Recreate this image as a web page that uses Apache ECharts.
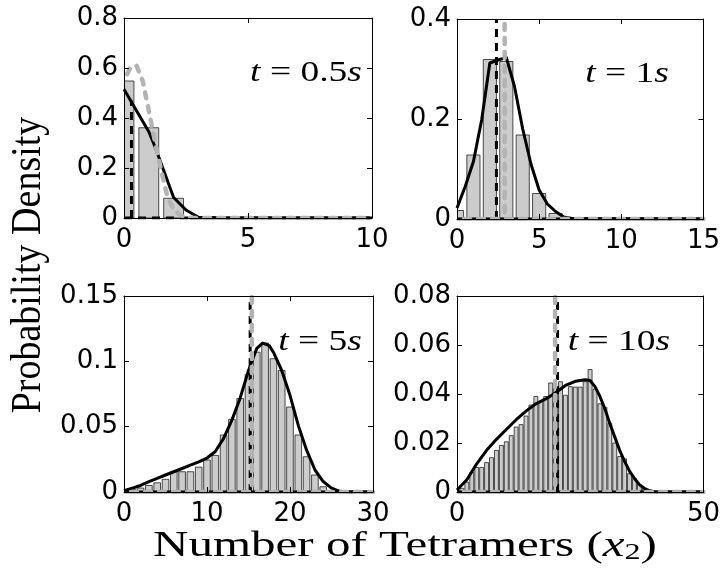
<!DOCTYPE html>
<html>
<head>
<meta charset="utf-8">
<title>Tetramer distributions</title>
<script src="https://cdn.jsdelivr.net/npm/echarts@6.0.0/dist/echarts.min.js"></script>
<style>
  html, body { margin: 0; padding: 0; background: #fff; }
  #chart { width: 723px; height: 586px; }
</style>
</head>
<body>
<div id="chart"></div>
<script>
// t = 0.5 s
const xTicks05 = [0, 5, 10];
const yTicks05 = [0, 0.2, 0.4, 0.6, 0.8];
const bins05 = [0, 1, 2];
const hist05 = [0.548, 0.361, 0.079];
const fitX05 = [0, 1, 1.25, 2, 2.5, 3, 4, 10];
const fitY05 = [0.515, 0.345, 0.285, 0.082, 0.032, 0.003, 0, 0];
const grayX05 = [0, 0.25, 0.5, 0.75, 1, 1.25, 1.5, 1.75, 2, 2.25, 2.5, 3, 10];
const grayY05 = [0.55, 0.6, 0.61, 0.55, 0.43, 0.305, 0.19, 0.085, 0.035, 0.012, 0.002, 0, 0];
const det05 = 0.3;
const detTop05 = 0.47;

// t = 1 s
const xTicks1 = [0, 5, 10, 15];
const yTicks1 = [0, 0.2, 0.4];
const bins1 = [0, 1, 2, 3, 4, 5, 6];
const hist1 = [0.017, 0.128, 0.319, 0.315, 0.168, 0.051, 0.011];
const fitX1 = [0, 0.5, 1, 1.5, 2, 2.5, 3, 3.5, 4, 4.5, 5, 5.5, 6, 6.5, 7, 15];
const fitY1 = [0.022, 0.065, 0.115, 0.198, 0.312, 0.318, 0.323, 0.265, 0.18, 0.11, 0.058, 0.03, 0.015, 0.004, 0.001, 0];
const det1 = 2.4;
const lna1 = 2.9;

// t = 5 s
const xTicks5 = [0, 10, 20, 30];
const yTicks5 = [0, 0.05, 0.1, 0.15];
const bins5 = [0, 1, 2, 3, 4, 5, 6, 7, 8, 9, 10, 11, 12, 13, 14, 15, 16, 17, 18, 19, 20, 21, 22, 23, 24, 25];
const hist5 = [0.0008, 0.002, 0.003, 0.005, 0.007, 0.0097, 0.0155, 0.0155, 0.0155, 0.019, 0.0245, 0.028, 0.0436,
  0.0556, 0.0715, 0.09, 0.107, 0.114, 0.102, 0.093, 0.065, 0.0436, 0.027, 0.013, 0.004, 0.001];
const fitX5 = [0, 1, 2, 3, 4, 5, 6, 7, 8, 9, 10, 11, 12, 13, 14, 15, 16, 16.7, 17.5, 18, 19, 20, 21, 22, 23, 24, 25, 26, 27, 30];
const fitY5 = [0.001, 0.003, 0.005, 0.008, 0.0105, 0.013, 0.0155, 0.018, 0.0205, 0.023, 0.026, 0.031, 0.041, 0.055,
  0.072, 0.093, 0.11, 0.114, 0.112, 0.107, 0.093, 0.074, 0.051, 0.032, 0.017, 0.008, 0.003, 0.0005, 0, 0];
const det5 = 15.2;
const lna5 = 15.4;

// t = 10 s
const xTicks10 = [0, 50];
const yTicks10 = [0, 0.02, 0.04, 0.06, 0.08];
const bins10 = [0, 1, 2, 3, 4, 5, 6, 7, 8, 9, 10, 11, 12, 13, 14, 15, 16, 17, 18, 19,
  20, 21, 22, 23, 24, 25, 26, 27, 28, 29, 30, 31, 32, 33, 34, 35, 36, 37, 38, 39];
const hist10 = [0.0005, 0.0015, 0.004, 0.008, 0.01, 0.01, 0.012, 0.014, 0.017, 0.019, 0.0205, 0.023, 0.0265, 0.0275,
  0.031, 0.0355, 0.039, 0.037, 0.039, 0.0445, 0.043, 0.045, 0.0395, 0.043, 0.0428, 0.0428, 0.045, 0.05, 0.042, 0.036,
  0.0345, 0.028, 0.02, 0.0145, 0.0135, 0.0075, 0.0055, 0.003, 0.0012, 0.0005];
const fitX10 = [0, 2, 4, 6, 8, 10, 12, 14, 16, 18, 20, 22, 24, 26, 27, 28, 29, 30, 31, 32, 33, 34, 35, 36, 37, 38, 39, 40, 41, 50];
const fitY10 = [0.0008, 0.005, 0.0115, 0.017, 0.0215, 0.0255, 0.0295, 0.033, 0.036, 0.038, 0.0405, 0.0435, 0.0452,
  0.0458, 0.0455, 0.043, 0.039, 0.034, 0.028, 0.0225, 0.017, 0.0125, 0.0085, 0.0055, 0.003, 0.0015, 0.0006, 0.0001, 0, 0];
const det10 = 20.4;
const lna10 = 19.9;

const panels = [
  { bins: bins05, hist: hist05, fitX: fitX05, fitY: fitY05, grayX: grayX05, grayY: grayY05, det: det05, detTop: detTop05, xTicks: xTicks05, yTicks: yTicks05 },
  { bins: bins1, hist: hist1, fitX: fitX1, fitY: fitY1, lna: lna1, det: det1, xTicks: xTicks1, yTicks: yTicks1 },
  { bins: bins5, hist: hist5, fitX: fitX5, fitY: fitY5, lna: lna5, det: det5, xTicks: xTicks5, yTicks: yTicks5 },
  { bins: bins10, hist: hist10, fitX: fitX10, fitY: fitY10, lna: lna10, det: det10, xTicks: xTicks10, yTicks: yTicks10 }
];

const grids = [
  { left: 124, top: 18, width: 248, height: 200 },
  { left: 457, top: 19, width: 247, height: 200 },
  { left: 124, top: 296, width: 249, height: 196 },
  { left: 457, top: 296, width: 247, height: 196 }
];

const SANS = 'DejaVu Sans';
const SERIF = '"Liberation Serif"';
const GRAY = '#b3b3b3';
const BAR_FRAC = 0.8; // bar width as a fraction of the unit bin

const zip = (xs, ys) => xs.map((x, k) => [x, ys[k]]);
const last = a => a[a.length - 1];

function axis(dim, i, ticks, pos, labels) {
  return {
    gridIndex: i,
    type: 'value',
    position: pos,
    min: ticks[0],
    max: last(ticks),
    interval: ticks[1] - ticks[0],
    z: 10,
    axisLine: { show: true, onZero: false, lineStyle: { color: '#000', width: 1 } },
    axisTick: { show: true, inside: true, length: 5, lineStyle: { color: '#000', width: 1 } },
    axisLabel: {
      show: labels,
      color: '#000',
      fontFamily: SANS,
      fontSize: 26,
      margin: dim === 'x' ? 9 : 6,
      showMinLabel: true,
      showMaxLabel: true
    },
    splitLine: { show: false }
  };
}

// histogram bars, clipped to the plot box
function renderBar(params, api) {
  const x = api.value(0), h = api.value(1);
  const a = api.coord([x - BAR_FRAC / 2, h]);
  const b = api.coord([x + BAR_FRAC / 2, 0]);
  const shape = echarts.graphic.clipRectByRect(
    { x: a[0], y: a[1], width: b[0] - a[0], height: b[1] - a[1] },
    { x: params.coordSys.x, y: params.coordSys.y, width: params.coordSys.width, height: params.coordSys.height }
  );
  if (!shape) return;
  return {
    type: 'rect',
    shape: shape,
    style: { fill: '#cccccc', stroke: '#222', lineWidth: 0.8 }
  };
}

const xAxis = [], yAxis = [], series = [];
panels.forEach((p, i) => {
  xAxis.push(axis('x', i, p.xTicks, 'bottom', true));
  yAxis.push(axis('y', i, p.yTicks, 'left', true));
});
panels.forEach((p, i) => {
  xAxis.push(axis('x', i, p.xTicks, 'top', false));
  yAxis.push(axis('y', i, p.yTicks, 'right', false));
});

const blackDash = { color: '#000', width: 3, type: [8, 6] };
const grayDash = { color: GRAY, width: 4.5, type: [6, 8], dashOffset: 7, cap: 'round' };

panels.forEach((p, i) => {
  const x0 = p.xTicks[0], x1 = last(p.xTicks);
  const yTop = last(p.yTicks);
  const base = { xAxisIndex: i, yAxisIndex: i, animation: false, silent: true };
  const lineBase = Object.assign({}, base, { type: 'line', symbol: 'none', showSymbol: false, clip: true });

  series.push(Object.assign({}, base, {
    type: 'custom',
    renderItem: renderBar,
    encode: { x: 0, y: 1 },
    data: zip(p.bins, p.hist),
    clip: true,
    z: 1
  }));
  series.push(Object.assign({}, lineBase, {
    data: zip(p.fitX, p.fitY),
    lineStyle: { color: '#000', width: 3, join: 'round' },
    z: 3
  }));
  series.push(Object.assign({}, lineBase, {
    data: zip([p.det, p.det], [0, p.detTop != null ? p.detTop : yTop]),
    lineStyle: blackDash,
    z: 4
  }));
  series.push(Object.assign({}, lineBase, {
    data: zip([x0, x1], [0, 0]),
    lineStyle: blackDash,
    z: 4
  }));
  if (p.grayX) {
    series.push(Object.assign({}, lineBase, {
      data: zip(p.grayX, p.grayY),
      lineStyle: grayDash,
      z: 5
    }));
  } else {
    series.push(Object.assign({}, lineBase, {
      data: zip([p.lna, p.lna], [0, yTop]),
      lineStyle: grayDash,
      z: 5
    }));
    series.push(Object.assign({}, lineBase, {
      data: zip([x0, x1], [0, 0]),
      lineStyle: grayDash,
      z: 5
    }));
  }
});

function serifRich(size) {
  return {
    i: { fontFamily: SERIF, fontSize: size, fontStyle: 'italic', fill: '#000', lineHeight: size },
    n: { fontFamily: SERIF, fontSize: size, fontStyle: 'normal', fill: '#000', lineHeight: size }
  };
}

function timeLabel(text, cx, cy) {
  return {
    type: 'text',
    x: cx,
    y: cy,
    scaleX: 1.25,
    z: 20,
    style: {
      text: text,
      fontFamily: SERIF,
      fontSize: 30,
      lineHeight: 30,
      fill: '#000',
      align: 'center',
      textAlign: 'center',
      verticalAlign: 'middle',
      textVerticalAlign: 'middle',
      rich: serifRich(30)
    }
  };
}

const graphic = [
  timeLabel('{i|t}{n| = 0.5}{i|s}', 306, 73),
  timeLabel('{i|t}{n| = 1}{i|s}', 627, 74),
  timeLabel('{i|t}{n| = 5}{i|s}', 320, 342),
  timeLabel('{i|t}{n| = 10}{i|s}', 619, 342),
  {
    type: 'text',
    x: 29,
    y: 265,
    rotation: Math.PI / 2,
    scaleY: 1.1,
    z: 20,
    style: {
      text: 'Probability Density',
      fontFamily: SERIF,
      fontSize: 38,
      fill: '#000',
      align: 'center',
      textAlign: 'center',
      verticalAlign: 'middle',
      textVerticalAlign: 'middle'
    }
  },
  {
    type: 'text',
    x: 405,
    y: 547,
    scaleX: 1.4,
    z: 20,
    style: {
      text: '{n|Number of Tetramers (}{i|x}{s|2}{n|)}',
      fontFamily: SERIF,
      fontSize: 35,
      lineHeight: 35,
      fill: '#000',
      align: 'center',
      textAlign: 'center',
      verticalAlign: 'middle',
      textVerticalAlign: 'middle',
      rich: {
        n: { fontFamily: SERIF, fontSize: 35, fontStyle: 'normal', fill: '#000', lineHeight: 35 },
        i: { fontFamily: SERIF, fontSize: 35, fontStyle: 'italic', fill: '#000', lineHeight: 35 },
        s: { fontFamily: SERIF, fontSize: 23, fontStyle: 'normal', fill: '#000', lineHeight: 23, verticalAlign: 'bottom' }
      }
    }
  }
];

const chart = echarts.init(document.getElementById('chart'), null, { renderer: 'canvas' });
chart.setOption({
  backgroundColor: '#fff',
  animation: false,
  grid: grids,
  xAxis: xAxis,
  yAxis: yAxis,
  series: series,
  graphic: graphic
});
</script>
</body>
</html>
